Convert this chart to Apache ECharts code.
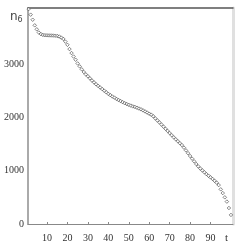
<!DOCTYPE html>
<html><head><meta charset="utf-8">
<script src="https://cdn.jsdelivr.net/npm/echarts@6/dist/echarts.min.js"></script>
<style>html,body{margin:0;padding:0;background:#fff}#c{width:243px;height:245px}</style>
</head><body><div id="c"></div>
<script>
const tValues = Array.from({length:100},(_,i)=>i+1);
const n6Values = [4030,3925,3830,3725,3650,3590,3560,3545,3540,3538,
3536,3535,3533,3530,3525,3515,3495,3470,3420,3360,
3280,3205,3140,3080,3010,2955,2900,2850,2805,2770,
2730,2690,2655,2620,2590,2560,2530,2500,2470,2440,
2415,2390,2370,2345,2325,2305,2285,2265,2250,2235,
2220,2205,2195,2180,2165,2150,2130,2110,2090,2068,
2050,2020,1980,1942,1905,1865,1825,1785,1745,1705,
1665,1625,1588,1552,1515,1480,1432,1380,1328,1275,
1225,1175,1125,1080,1040,1005,970,935,905,875,
845,810,775,730,650,580,500,420,300,170];
const xTicks = [10,20,30,40,50,60,70,80,90];
const yTicks = [0,1000,2000,3000];

const chart = echarts.init(document.getElementById('c'), null, {renderer:'canvas'});
chart.setOption({
  animation:false,
  grid:{left:28,top:8,right:10,bottom:21,containLabel:false},
  xAxis:[{
    type:'value', min:0.7, max:101, position:'bottom',
    axisLine:{show:true,onZero:false,lineStyle:{color:'#888',width:1}},
    axisTick:{show:true,inside:true,length:2,customValues:xTicks,lineStyle:{color:'#888'}},
    axisLabel:{customValues:xTicks,formatter:v=>String(v),fontFamily:'Liberation Serif',fontSize:10,color:'#333',margin:9},
    splitLine:{show:false}
  },{
    type:'value', min:0.7, max:101, position:'top',
    axisLine:{show:true,onZero:false,lineStyle:{color:'#555',width:1.5}},
    axisTick:{show:false}, axisLabel:{show:false}, splitLine:{show:false}
  }],
  yAxis:[{
    type:'value', min:0, max:4050, position:'left',
    axisLine:{show:true,onZero:false,lineStyle:{color:'#aaa',width:2}},
    axisTick:{show:false},
    axisLabel:{customValues:yTicks,formatter:v=>String(v),fontFamily:'Liberation Serif',fontSize:10,color:'#333',margin:4},
    splitLine:{show:false}
  },{
    type:'value', min:0, max:4050, position:'right',
    axisLine:{show:true,onZero:false,lineStyle:{color:'#e0e0e0',width:3}},
    axisTick:{show:false}, axisLabel:{show:false}, splitLine:{show:false}
  }],
  graphic:[
    {type:'text',left:10,top:11,style:{text:'{a|n}{b|6}',rich:{a:{fontFamily:'DejaVu Sans',fontSize:12,fill:'#444'},b:{fontFamily:'DejaVu Sans',fontSize:8,fill:'#444',padding:[6,0,0,0]}}}},
    {type:'text',left:225,top:233,style:{text:'t',fontFamily:'Liberation Serif',fontSize:11,fill:'#333'}}
  ],
  series:[{
    type:'scatter',
    data:tValues.map((t,i)=>[t,n6Values[i]]),
    symbol:'diamond', symbolSize:3.5,
    itemStyle:{color:'#fff',borderColor:'#444',borderWidth:0.8}
  }]
});
</script></body></html>
